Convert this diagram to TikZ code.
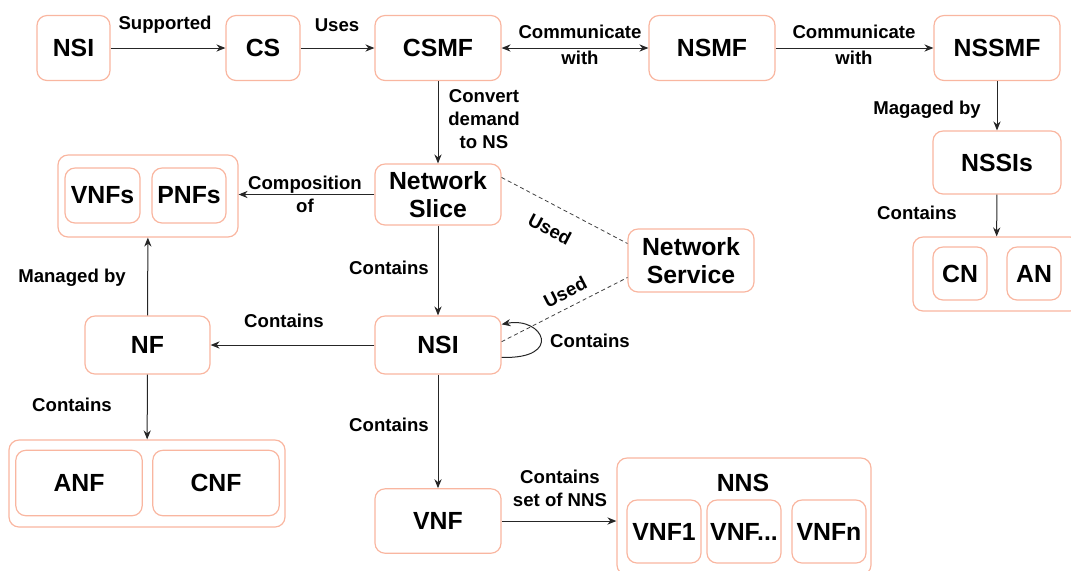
\documentclass[tikz,border=0pt]{standalone}
\usepackage{fontspec}
\setmainfont{Liberation Sans}
\usetikzlibrary{arrows.meta}
\definecolor{boxline}{RGB}{249,182,160}
\newcommand{\boxfont}{\fontsize{12.4}{13.8}\selectfont\bfseries}
\newcommand{\lblfont}{\fontsize{9.3}{11.6}\selectfont\bfseries}

\begin{document}
\begin{tikzpicture}[x=0.5pt, y=-0.5pt,
    box/.style={draw=boxline, line width=0.6pt, rounded corners=5pt, align=center, font=\boxfont, inner sep=0pt},
    lbl/.style={font=\lblfont, align=center, inner sep=1pt},
    arr/.style={draw=black!85, line width=0.5pt, -{Stealth[length=4.5pt,width=3.6pt]}},
    twoarr/.style={draw=black!85, line width=0.5pt, {Stealth[length=4.5pt,width=3.6pt]}-{Stealth[length=4.5pt,width=3.6pt]}},
    used/.style={draw=black!75, line width=0.4pt, dash pattern=on 2pt off 1.5pt}]
    \useasboundingbox (0,0) rectangle (1071,570);
    % top row
    \node[box, minimum width=36.5pt, minimum height=32.5pt] (nsiTop) at (73.5,48) {NSI};
    \node[box, minimum width=37pt, minimum height=32.5pt] (cs) at (263,48) {CS};
    \node[box, minimum width=63pt, minimum height=32.5pt] (csmf) at (438,48) {CSMF};
    \node[box, minimum width=63pt, minimum height=32.5pt] (nsmf) at (712,48) {NSMF};
    \node[box, minimum width=63pt, minimum height=32.5pt] (nssmf) at (997,48) {NSSMF};
    \node[box, minimum width=64pt, minimum height=31.5pt] (nssis) at (997,162.5) {NSSIs};
    \node[box, minimum width=83.5pt, minimum height=37pt] (cnan) at (996.5,274) {};
    \node[box, minimum width=27pt, minimum height=26.5pt] (cn) at (960,273.5) {CN};
    \node[box, minimum width=27pt, minimum height=26.5pt] (an) at (1034,273.5) {AN};
    % middle
    \node[box, minimum width=63pt, minimum height=30.5pt] (slice) at (438,194.5) {Network\\Slice};
    \node[box, minimum width=63pt, minimum height=31.5pt] (nserv) at (691,260.5) {Network\\Service};
    \node[box, minimum width=63pt, minimum height=29pt] (nsiMid) at (438,345) {NSI};
    \node[box, minimum width=62.5pt, minimum height=29pt] (nf) at (147.5,345) {NF};
    \node[box, minimum width=90pt, minimum height=41pt] (pgroup) at (148,196) {};
    \node[box, minimum width=37.5pt, minimum height=27.5pt] (vnfs) at (102.5,195.5) {VNFs};
    \node[box, minimum width=37pt, minimum height=27.5pt] (pnfs) at (189,195.5) {PNFs};
    % bottom
    \node[box, minimum width=138pt, minimum height=43.5pt] (agroup) at (147,483.5) {};
    \node[box, minimum width=63.2pt, minimum height=32.7pt] (anf) at (79,483) {ANF};
    \node[box, minimum width=63.2pt, minimum height=32.7pt] (cnf) at (216,483) {CNF};
    \node[box, minimum width=63pt, minimum height=32.2pt] (vnf) at (438,521) {VNF};
    \node[box, minimum width=127pt, minimum height=58.5pt] (nns) at (744,516.5) {};
    \node[font=\boxfont] (nnsTitle) at (743,483) {NNS};
    \node[box, minimum width=37pt, minimum height=31.5pt] (vnfA) at (664,531.5) {VNF1};
    \node[box, minimum width=37pt, minimum height=31.5pt] (vnfB) at (744,531.5) {VNF...};
    \node[box, minimum width=37pt, minimum height=31.5pt] (vnfC) at (829,531.5) {VNFn};
    % connectors
    \draw[arr] (nsiTop) -- (cs);
    \node[lbl] (tSupported) at (165,25) {Supported};
    \draw[arr] (cs) -- (csmf);
    \node[lbl] (tUses) at (337,25) {Uses};
    \draw[twoarr] (csmf) -- (nsmf);
    \node[lbl, text depth=0pt] (tCom1) at (580,45) {Communicate\\[1.5pt]with};
    \draw[arr] (nsmf) -- (nssmf);
    \node[lbl] (tCom2) at (854,45) {Communicate\\[1.5pt]with};
    \draw[arr] (nssmf) -- (nssis);
    \node[lbl] (tMagaged) at (927,110) {Magaged by};
    \draw[arr] (nssis) -- (cnan);
    \node[lbl] (tContNssi) at (917,213) {Contains};
    \draw[arr] (csmf) -- (slice);
    \node[lbl] (tConvert) at (484,119) {Convert\\demand\\to NS};
    \draw[arr] (slice.west) -- (slice.west -| pgroup.east);
    \node[lbl] (tCompo) at (305,194) {Composition\\of};
    \draw[arr] (slice) -- (nsiMid);
    \node[lbl] (tContSlice) at (389,268) {Contains};
    \draw[arr] (nsiMid) -- (nf);
    \node[lbl] (tContNf) at (284,321) {Contains};
    \draw[arr] (nf) -- (pgroup);
    \node[lbl] (tManaged) at (72,278) {Managed by};
    \draw[arr] (nf) -- (agroup);
    \node[lbl] (tContAnf) at (72,405) {Contains};
    \draw[arr] (nsiMid) -- (vnf);
    \node[lbl] (tContVnf) at (389,425) {Contains};
    \draw[arr] (vnf.east) -- (vnf.east -| nns.west);
    \node[lbl] (tSetNns) at (560,488) {Contains\\set of NNS};
    \draw[used] (slice.15) -- (nserv.165) node[lbl, pos=0.47, below=7pt, sloped] (tUsed1) {Used};
    \draw[used] (nsiMid.3) -- (nserv.195) node[lbl, pos=0.56, above=3pt, sloped] (tUsed2) {Used};
    \draw[arr] (nsiMid.-11) .. controls +(62,2) and +(42,-8) .. (nsiMid.18);
    \node[lbl] (tContLoop) at (590,341) {Contains};
\end{tikzpicture}
\end{document}
